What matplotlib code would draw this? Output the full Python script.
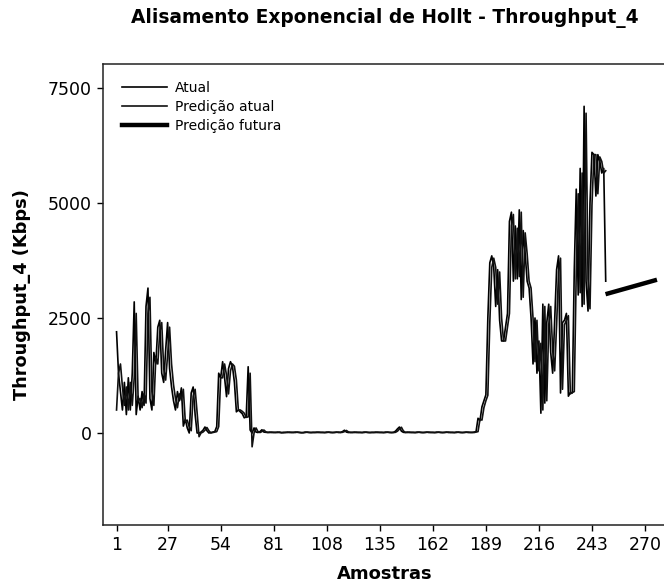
"""Holt exponential smoothing plot for Throughput_4 (actual, fitted, forecast)."""

import matplotlib
matplotlib.use("Agg")
import matplotlib.pyplot as plt
import numpy as np

TITLE = "Alisamento Exponencial de Hollt - Throughput_4"
X_LABEL = "Amostras"
Y_LABEL = "Throughput_4 (Kbps)"
LEGEND_LABELS = ["Atual", "Predição atual", "Predição futura"]

X_TICKS = [1, 27, 54, 81, 108, 135, 162, 189, 216, 243, 270]
Y_TICKS = [0, 2500, 5000, 7500]

# actual throughput, samples 1..250
ACTUAL = [
    2200, 1300, 900, 500, 1100, 400, 1200, 500, 1300, 2850,
    400, 800, 500, 900, 600, 2750, 3150, 750, 500, 1750,
    1500, 2300, 2450, 1300, 1100, 1800, 2400, 1400, 1000, 700,
    500, 900, 700, 980, 150, 300, 110, 0, 870, 1000,
    400, 0, 0, 20, 60, 130, 50, 0, 10, 20,
    30, 140, 1300, 1200, 1550, 1200, 790, 1400, 1550, 1450,
    1100, 460, 500, 460, 420, 330, 350, 1440, 65, 0,
    110, 20, 10, 30, 70, 20, 15, 10, 20, 10,
    15, 10, 20, 10, 5, 15, 10, 20, 10, 15,
    10, 20, 15, 10, 5, 10, 20, 15, 10, 10,
    15, 10, 20, 10, 15, 10, 10, 20, 15, 10,
    10, 15, 20, 10, 15, 30, 60, 20, 10, 15,
    10, 20, 10, 15, 10, 10, 20, 15, 10, 10,
    15, 10, 20, 10, 15, 10, 10, 20, 15, 10,
    10, 15, 40, 90, 130, 40, 15, 10, 20, 10,
    15, 10, 10, 20, 15, 10, 10, 15, 20, 10,
    15, 10, 10, 20, 15, 10, 10, 15, 20, 10,
    15, 10, 10, 20, 15, 10, 10, 15, 20, 10,
    15, 10, 20, 30, 320, 270, 570, 700, 830, 2500,
    3700, 3850, 3600, 2750, 3550, 2450, 2000, 2000, 2300, 2600,
    4600, 4800, 3300, 4500, 3350, 4850, 2900, 4400, 3900, 3300,
    3150, 2500, 1500, 2500, 1300, 2000, 430, 2800, 650, 2400,
    2800, 1750, 1300, 2400, 3550, 3850, 870, 2400, 2450, 2600,
    800, 880, 870, 3550, 5300, 3000, 5750, 2750, 7100, 3300,
    2650, 5000, 6100, 6050, 5150, 6050, 5900, 5650, 5750, 3300,
]

# one-step-ahead fitted values, samples 1..250
FITTED = [
    500, 1300, 1500, 1000, 600, 1000, 500, 1100, 600, 1200,
    2600, 700, 750, 550, 850, 650, 2600, 2950, 900, 600,
    1650, 1500, 2200, 2400, 1400, 1150, 1700, 2300, 1500, 1050,
    750, 550, 850, 720, 950, 250, 280, 130, 50, 800,
    950, 450, -80, 0, 20, 60, 120, 50, 0, 10,
    20, 30, 140, 1200, 1200, 1500, 1250, 850, 1350, 1500,
    1450, 1150, 500, 500, 470, 430, 340, 350, 1300, -300,
    0, 110, 30, 10, 30, 65, 25, 15, 10, 20,
    10, 15, 10, 20, 10, 5, 15, 10, 20, 10,
    15, 10, 20, 15, 10, 5, 10, 20, 15, 10,
    10, 15, 10, 20, 10, 15, 10, 10, 20, 15,
    10, 10, 15, 20, 10, 15, 30, 55, 25, 10,
    15, 10, 20, 10, 15, 10, 10, 20, 15, 10,
    10, 15, 10, 20, 10, 15, 10, 10, 20, 15,
    10, 10, 15, 40, 85, 125, 45, 15, 10, 20,
    10, 15, 10, 10, 20, 15, 10, 10, 15, 20,
    10, 15, 10, 10, 20, 15, 10, 10, 15, 20,
    10, 15, 10, 10, 20, 15, 10, 10, 15, 20,
    10, 15, 10, 20, 30, 300, 280, 550, 700, 820,
    2400, 3600, 3800, 3600, 2800, 3500, 2500, 2000, 2000, 2300,
    2600, 4500, 4750, 3350, 4450, 3400, 4800, 2950, 4350, 3900,
    3300, 3150, 2500, 1550, 2450, 1350, 1950, 500, 2750, 700,
    2350, 2750, 1800, 1350, 2350, 3500, 3800, 950, 2350, 2450,
    2550, 850, 880, 900, 3500, 5200, 3050, 5650, 2800, 6950,
    3350, 2700, 4950, 6050, 6050, 5200, 6000, 5900, 5650, 5700,
]

# forecast, samples 251..275
FORECAST = [
    3030, 3042, 3054, 3066, 3078, 3090, 3102, 3114, 3126, 3138,
    3150, 3162, 3174, 3186, 3198, 3210, 3222, 3234, 3246, 3258,
    3270, 3282, 3294, 3306, 3318,
]

x_obs = np.arange(1, len(ACTUAL) + 1)
x_fc = np.arange(len(ACTUAL) + 1, len(ACTUAL) + len(FORECAST) + 1)

fig = plt.figure(figsize=(6.64, 5.84), dpi=100)
ax = fig.add_axes([0.1551, 0.1010, 0.8515, 0.7894])

ax.plot(x_obs, ACTUAL, color="black", lw=1.2, label=LEGEND_LABELS[0])
ax.plot(x_obs, FITTED, color="#111111", lw=1.2, label=LEGEND_LABELS[1])
ax.plot(x_fc, FORECAST, color="black", lw=3.2, label=LEGEND_LABELS[2])

ax.set_xlim(-5.9, 281.9)
ax.set_ylim(-2000, 8020)
ax.set_xticks(X_TICKS)
ax.set_yticks(Y_TICKS)
ax.tick_params(direction="out", length=4, width=1, labelsize=12.5, pad=4)

for side in ("top", "left", "bottom", "right"):
    ax.spines[side].set_linewidth(1.1)
    ax.spines[side].set_color("#222222")

ax.set_ylabel(Y_LABEL, fontsize=12.8, fontweight="bold", labelpad=12)
fig.text(385 / 664, 1 - 574 / 584, X_LABEL, ha="center", va="center",
         fontsize=13, fontweight="bold")
fig.text(385 / 664, 1 - 18 / 584, TITLE, ha="center", va="center",
         fontsize=13.4, fontweight="bold")

ax.legend(loc="upper left", bbox_to_anchor=(0.034, 0.963), frameon=False,
          borderpad=0, borderaxespad=0, handlelength=3.2, handletextpad=0.6,
          labelspacing=0.35, fontsize=10)

fig.savefig("out.png", dpi=100)
